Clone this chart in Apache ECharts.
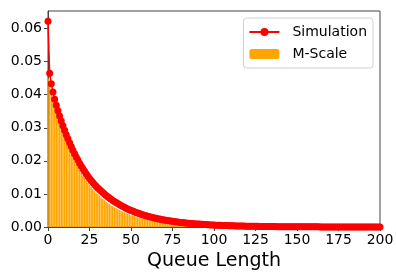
<!DOCTYPE html>
<html>
<head>
<meta charset="utf-8">
<script src="https://cdn.jsdelivr.net/npm/echarts@6/dist/echarts.min.js"></script>
<style>html,body{margin:0;padding:0;background:#fff}#c{width:396px;height:273px}</style>
</head>
<body>
<div id="c"></div>
<script>
const xTicks = [0, 25, 50, 75, 100, 125, 150, 175, 200];
const yTicks = [0.00, 0.01, 0.02, 0.03, 0.04, 0.05, 0.06];
const seriesNames = ['Simulation', 'M-Scale'];
// values for queue length 0..200
const simulation = [
0.0622,0.0465,0.0433,0.0408,0.0386,0.0368,0.03514,0.03356,0.03205,0.03061,
0.02923,0.02792,0.02666,0.02546,0.02431,0.02322,0.02218,0.02118,0.02022,0.01931,
0.01845,0.01762,0.01682,0.01607,0.01534,0.01465,0.01404,0.01345,0.01288,0.01234,
0.01182,0.01133,0.01085,0.01040,0.00996,0.00954,0.00914,0.00876,0.00839,0.00804,
0.00770,0.00738,0.00707,0.00677,0.00649,0.00621,0.00595,0.00570,0.00546,0.00523,
0.00501,0.00480,0.00460,0.00441,0.00422,0.00405,0.00388,0.00371,0.00356,0.00341,
0.00326,0.00313,0.00300,0.00287,0.00275,0.00263,0.00252,0.00242,0.00232,0.00222,
0.00213,0.00204,0.00195,0.00187,0.00179,0.00172,0.00164,0.00157,0.00151,0.00145,
0.00139,0.00133,0.00127,0.00122,0.00117,0.00112,0.00107,0.00103,0.00098,0.00094,
0.00090,0.00087,0.00083,0.00080,0.00076,0.00073,0.00070,0.00067,0.00064,0.00061,
0.00059,0.00056,0.00054,0.00052,0.00050,0.00048,0.00046,0.00044,0.00042,0.00040,
0.00038,0.00037,0.00035,0.00034,0.00032,0.00031,0.00030,0.00028,0.00027,0.00026,
0.00025,0.00024,0.00023,0.00022,0.00021,0.00020,0.00019,0.00018,0.00018,0.00017,
0.00016,0.00016,0.00015,0.00014,0.00014,0.00013,0.00013,0.00012,0.00011,0.00011,
0.00010,0.00010,0.00010,0.00009,0.00009,0.00008,0.00008,0.00008,0.00007,0.00007,
0.00007,0.00006,0.00006,0.00006,0.00006,0.00005,0.00005,0.00005,0.00005,0.00004,
0.00004,0.00004,0.00004,0.00004,0.00003,0.00003,0.00003,0.00003,0.00003,0.00003,
0.00003,0.00003,0.00002,0.00002,0.00002,0.00002,0.00002,0.00002,0.00002,0.00002,
0.00002,0.00002,0.00002,0.00002,0.00001,0.00001,0.00001,0.00001,0.00001,0.00001,
0.00001,0.00001,0.00001,0.00001,0.00001,0.00001,0.00001,0.00001,0.00001,0.00001,
0.00001
];
const mScale = [
0.04500,0.04278,0.04067,0.03867,0.03676,0.03495,0.03322,0.03159,0.03003,0.02855,
0.02714,0.02580,0.02453,0.02332,0.02217,0.02108,0.02004,0.01905,0.01811,0.01722,
0.01637,0.01556,0.01480,0.01407,0.01337,0.01271,0.01209,0.01149,0.01093,0.01039,
0.00988,0.00939,0.00893,0.00849,0.00807,0.00767,0.00729,0.00693,0.00659,0.00627,
0.00596,0.00566,0.00538,0.00512,0.00487,0.00463,0.00440,0.00418,0.00398,0.00378,
0.00359,0.00342,0.00325,0.00309,0.00294,0.00279,0.00265,0.00252,0.00240,0.00228,
0.00217,0.00206,0.00196,0.00186,0.00177,0.00168,0.00160,0.00152,0.00145,0.00138,
0.00131,0.00124,0.00118,0.00112,0.00107,0.00102,0.00097,0.00092,0.00087,0.00083,
0.00079,0.00075,0.00071,0.00068,0.00065,0.00061,0.00058,0.00055,0.00053,0.00050,
0.00048,0.00045,0.00043,0.00041,0.00039,0.00037,0.00035,0.00033,0.00032,0.00030,
0.00029,0.00027,0.00026,0.00025,0.00023,0.00022,0.00021,0.00020,0.00019,0.00018,
0.00017,0.00016,0.00015,0.00015,0.00014,0.00013,0.00013,0.00012,0.00011,0.00011,
0.00010,0.00010,0.00009,0.00009,0.00008,0.00008,0.00007,0.00007,0.00007,0.00006,
0.00006,0.00006,0.00005,0.00005,0.00005,0.00005,0.00004,0.00004,0.00004,0.00004,
0.00003,0.00003,0.00003,0.00003,0.00003,0.00003,0.00002,0.00002,0.00002,0.00002,
0.00002,0.00002,0.00002,0.00002,0.00002,0.00002,0.00002,0.00002,0.00002,0.00002,
0.00001,0.00001,0.00001,0.00001,0.00001,0.00001,0.00001,0.00001,0.00001,0.00001,
0.00001,0.00001,0.00001,0.00001,0.00001,0.00001,0.00001,0.00001,0.00001,0.00001,
0.00001,0.00001,0.00001,0.00001,0.00001,0.00001,0.00001,0.00001,0.00001,0.00001,
0.00001,0.00001,0.00001,0.00001,0.00001,0.00001,0.00001,0.00001,0.00001,0.00001,
0.00001
];

const FONT = 'DejaVu Sans';
const chart = echarts.init(document.getElementById('c'), null, {renderer: 'canvas'});
chart.setOption({
  animation: false,
  backgroundColor: '#fff',
  textStyle: {fontFamily: FONT},
  grid: {left: 48, right: 16, top: 11, bottom: 46, outerBoundsMode: 'none', containLabel: false,
    show: true, borderColor: '#444', borderWidth: 1, backgroundColor: 'transparent'},
  legend: {
    data: seriesNames,
    orient: 'vertical',
    right: 23, top: 18,
    backgroundColor: '#fff',
    borderColor: '#d0d0d0', borderWidth: 1, borderRadius: 3,
    padding: [7, 6, 7, 5],
    itemGap: 8,
    itemWidth: 30, itemHeight: 10,
    textStyle: {fontFamily: FONT, fontSize: 14, color: '#000', padding: [0, 0, 0, 8]}
  },
  xAxis: {
    type: 'value', min: xTicks[0], max: xTicks[xTicks.length - 1], interval: 25,
    name: 'Queue Length', nameLocation: 'middle', nameGap: 24,
    nameTextStyle: {fontFamily: FONT, fontSize: 19, color: '#000'},
    axisLine: {show: true, lineStyle: {color: '#444', width: 1}},
    axisTick: {show: true, length: 4, lineStyle: {color: '#444'}},
    axisLabel: {fontFamily: FONT, fontSize: 14, color: '#000', margin: 6},
    splitLine: {show: false}
  },
  yAxis: {
    type: 'value', min: 0, max: 0.0653, interval: 0.01,
    axisLine: {show: true, lineStyle: {color: '#444', width: 1}},
    axisTick: {show: true, length: 4, lineStyle: {color: '#444'}},
    axisLabel: {fontFamily: FONT, fontSize: 14, color: '#000', margin: 6,
      showMaxLabel: false,
      formatter: v => (yTicks.some(t => Math.abs(t - v) < 1e-9) ? v.toFixed(2) : '')},
    splitLine: {show: false}
  },
  series: [
    {
      name: seriesNames[0], type: 'line',
      data: simulation.map((v, i) => [i, v]),
      showSymbol: true, symbol: 'circle', symbolSize: 7,
      lineStyle: {color: '#ff0000', width: 1.5},
      itemStyle: {color: '#ff0000'},
      clip: true,
      z: 3
    },
    {
      name: seriesNames[1], type: 'bar',
      data: mScale.map((v, i) => [i, v]),
      barWidth: 1.5,
      itemStyle: {color: '#ffa500'},
      z: 2
    }
  ]
});
</script>
</body>
</html>
